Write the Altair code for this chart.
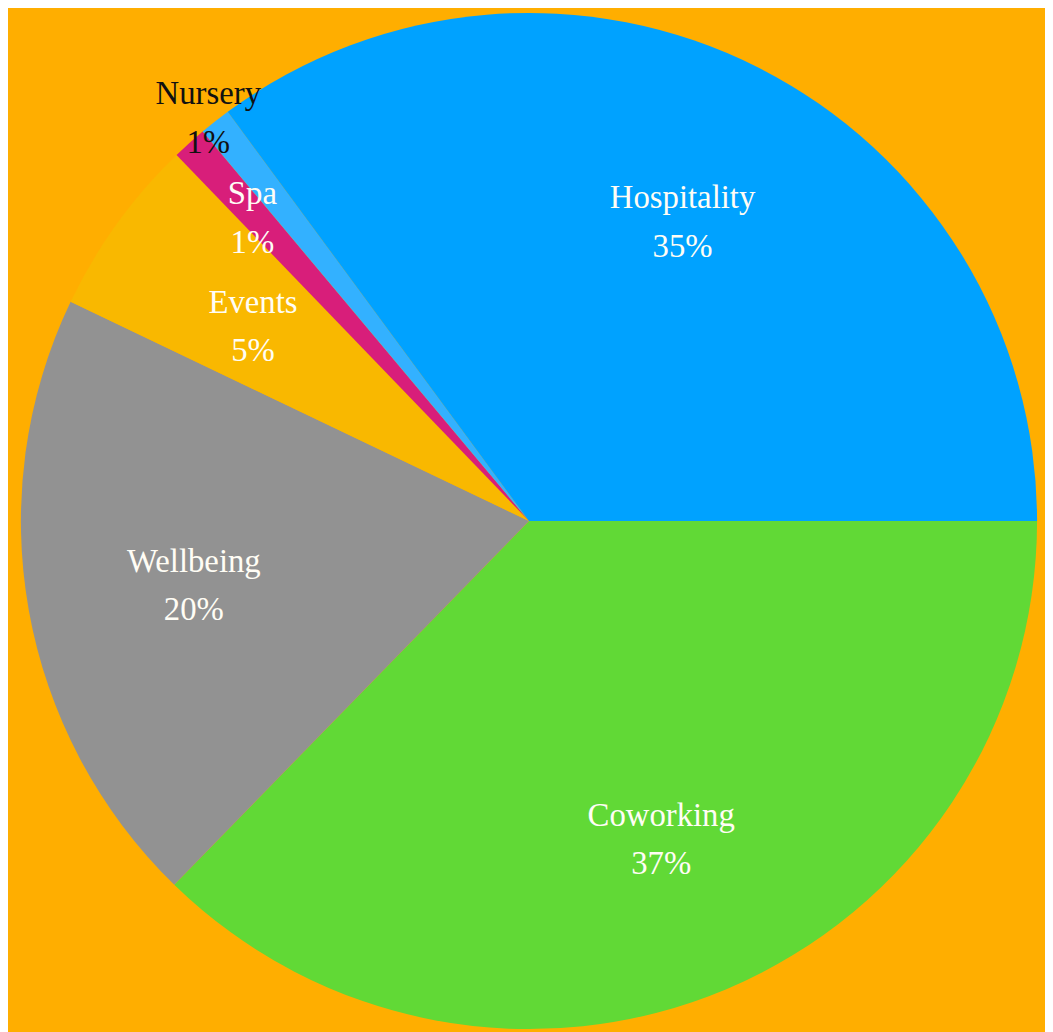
import math
import altair as alt
import pandas as pd

categories = ["Coworking", "Wellbeing", "Events", "Spa", "Nursery", "Hospitality"]
shares = [37.3, 19.8, 5.7, 1.1, 1.0, 35.1]
labels = ["37%", "20%", "5%", "1%", "1%", "35%"]
colors = ["#61D936", "#929292", "#F9B800", "#D81E7A", "#33B1FF", "#00A2FF"]

df = pd.DataFrame({
    "category": categories,
    "share": shares,
    "pct": labels,
    "idx": list(range(len(categories))),
})

theta_scale = alt.Scale(range=[math.pi / 2, math.pi / 2 + 2 * math.pi])

base = alt.Chart(df).encode(
    theta=alt.Theta("share:Q", stack=True, scale=theta_scale),
    order=alt.Order("idx:Q"),
    x=alt.value(525),
    y=alt.value(513),
)

arcs = base.mark_arc(radius=512, strokeWidth=0).encode(
    color=alt.Color(
        "category:N",
        scale=alt.Scale(domain=categories, range=colors),
        legend=None,
    )
)


def label_layer(names, radius, color):
    cond = " || ".join(f"datum.category == '{n}'" for n in names)
    return base.transform_calculate(
        lab=f"({cond}) ? datum.category + '\\n' + datum.pct : ''"
    ).mark_text(
        font="Liberation Serif",
        fontSize=33,
        lineBreak="\n",
        lineHeight=49,
        align="center",
        baseline="middle",
        radius=radius,
        dy=-19,
        color=color,
    ).encode(text="lab:N")


big = label_layer(["Coworking", "Wellbeing", "Events", "Hospitality"], 343, "#FFFDF5")
spa = label_layer(["Spa"], 417, "#FFFDF5")
nursery = label_layer(["Nursery"], 523, "#111111")

chart = (
    alt.layer(arcs, big, spa, nursery)
    .properties(
        width=1045,
        height=1024,
        background="#FFAE00",
        padding=0,
        autosize=alt.AutoSizeParams(type="none"),
    )
    .configure_view(stroke=None)
)

chart.save("out.html", embed_options={"renderer": "svg", "actions": False})
